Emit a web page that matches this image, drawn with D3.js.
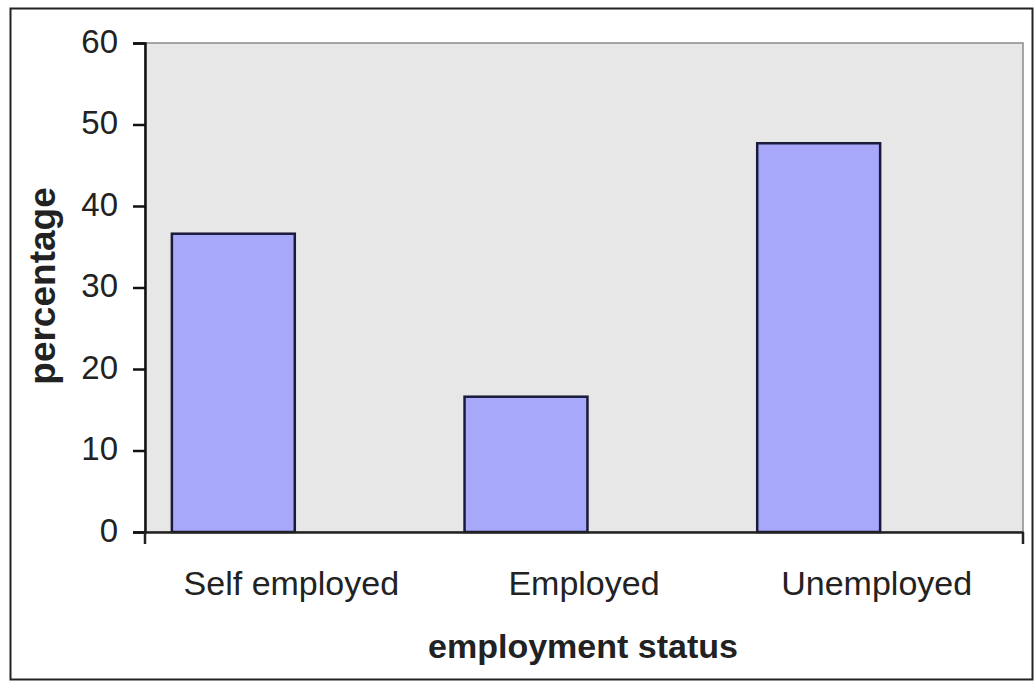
<!DOCTYPE html>
<html>
<head>
<meta charset="utf-8">
<script src="https://cdn.jsdelivr.net/npm/d3@7"></script>
<style>
  html, body { margin: 0; padding: 0; background: #fff; }
  svg { display: block; }
  text { font-family: "Liberation Sans", Arial, sans-serif; fill: #222; }
</style>
</head>
<body>
<svg id="chart" width="1035" height="686"></svg>
<script>
// Share of respondents by employment status (%)
const categories = ["Self employed", "Employed", "Unemployed"];
const percentages = [36.6, 16.6, 47.7];
const yTicks = [0, 10, 20, 30, 40, 50, 60];

const svg = d3.select("#chart");
const plot = { left: 145, right: 1023, top: 43, bottom: 532 };

// outer chart frame
svg.append("rect")
  .attr("x", 10.5).attr("y", 8.5)
  .attr("width", 1022).attr("height", 671)
  .attr("fill", "#fff").attr("stroke", "#222").attr("stroke-width", 2);

const x = d3.scaleBand()
  .domain(categories)
  .range([plot.left, plot.right])
  .paddingInner(0).paddingOuter(0);

const y = d3.scaleLinear()
  .domain([0, 60])
  .range([plot.bottom, plot.top]);

// plot area background with thin grey frame
svg.append("rect")
  .attr("x", plot.left).attr("y", plot.top)
  .attr("width", plot.right - plot.left).attr("height", plot.bottom - plot.top)
  .attr("fill", "#e7e7e7").attr("stroke", "#8a8a8a").attr("stroke-width", 1.5);

// bars sit left of the category centre, as drawn by the source chart
const barWidth = x.bandwidth() * 0.42;
const barShift = -58;
svg.append("g").selectAll("rect")
  .data(categories)
  .join("rect")
  .attr("x", (d) => x(d) + x.bandwidth() / 2 + barShift - barWidth / 2)
  .attr("y", (d, i) => y(percentages[i]))
  .attr("width", barWidth)
  .attr("height", (d, i) => y(0) - y(percentages[i]))
  .attr("fill", "#a8a8fa")
  .attr("stroke", "#1a1a3a")
  .attr("stroke-width", 2.5);

// y axis
const yAxis = svg.append("g")
  .attr("transform", `translate(${plot.left},0)`)
  .call(d3.axisLeft(y).tickValues(yTicks).tickSize(12).tickPadding(15));
yAxis.select(".domain").attr("stroke", "#111").attr("stroke-width", 2.5);
yAxis.selectAll(".tick line").attr("stroke", "#111").attr("stroke-width", 2.5);
yAxis.selectAll(".tick text")
  .attr("font-size", 33).attr("fill", "#222")
  .attr("dy", "0.28em")
  .attr("font-family", "Liberation Sans, Arial, sans-serif");

// x axis line with end ticks
const xAxis = svg.append("g")
  .attr("transform", `translate(0,${plot.bottom})`)
  .call(d3.axisBottom(x).tickSize(0).tickPadding(0));
xAxis.select(".domain").attr("stroke", "#222").attr("stroke-width", 2.5);
xAxis.selectAll(".tick text")
  .attr("font-size", 34).attr("fill", "#222")
  .attr("dy", null)
  .attr("y", 63)
  .attr("font-family", "Liberation Sans, Arial, sans-serif");
svg.append("g").selectAll("line")
  .data(x.range())
  .join("line")
  .attr("x1", (d) => d).attr("x2", (d) => d)
  .attr("y1", plot.bottom).attr("y2", plot.bottom + 12)
  .attr("stroke", "#222").attr("stroke-width", 2.5);

// axis titles
svg.append("text")
  .attr("x", 583)
  .attr("y", 658)
  .attr("text-anchor", "middle")
  .attr("font-size", 34).attr("font-weight", "bold")
  .text("employment status");

svg.append("text")
  .attr("transform", `translate(55,286) rotate(-90)`)
  .attr("text-anchor", "middle")
  .attr("font-size", 37).attr("font-weight", "bold")
  .text("percentage");
</script>
</body>
</html>
